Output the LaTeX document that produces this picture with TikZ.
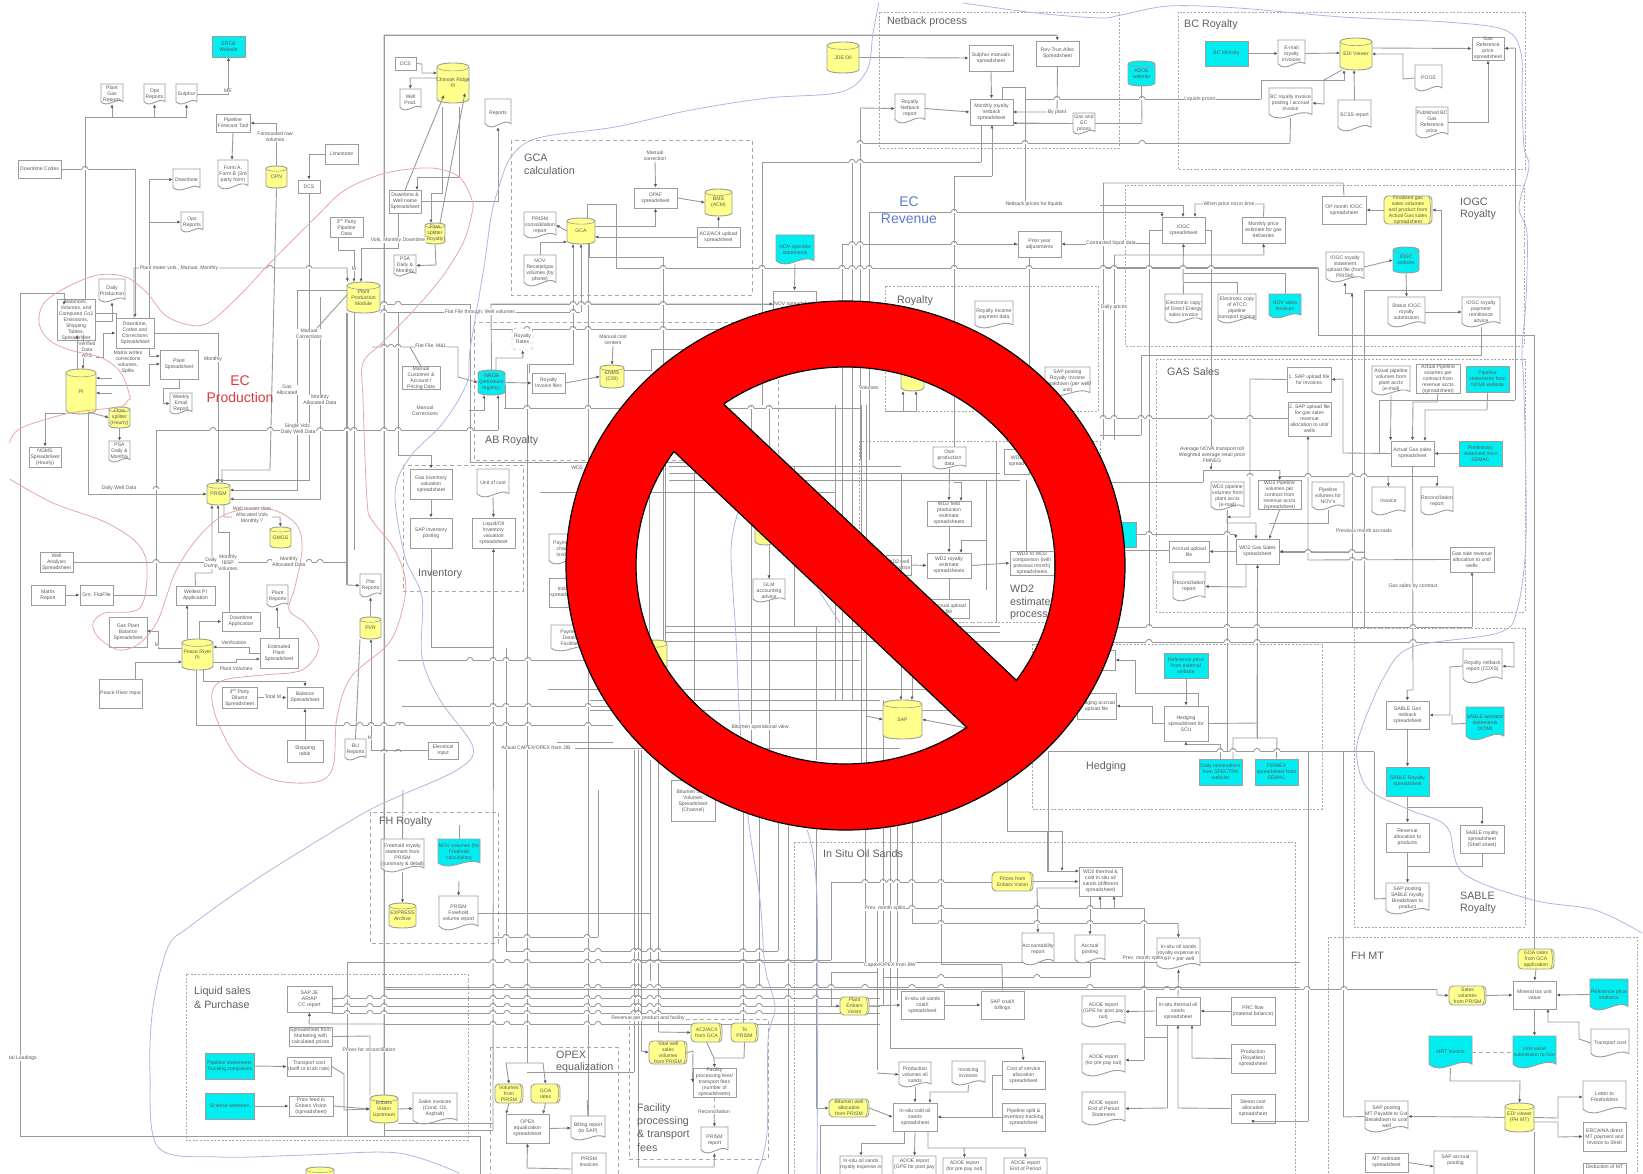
\documentclass[tikz,border=0pt]{standalone}
\usepackage{fontspec}
\setmainfont{Liberation Sans}
\usetikzlibrary{arrows.meta,calc}
\definecolor{edge}{HTML}{9C9C9C}
\definecolor{wire}{HTML}{9A9A9A}
\definecolor{txtc}{HTML}{5A5A5A}
\definecolor{regc}{HTML}{606060}
\definecolor{cyanb}{HTML}{00EEF2}
\definecolor{yelb}{HTML}{FFFF8C}
\definecolor{redc}{HTML}{E8A6A6}
\definecolor{bluc}{HTML}{A9B9E2}
\definecolor{dashc}{HTML}{A8A8A8}
\definecolor{ecred}{HTML}{E0383C}
\definecolor{ecblue}{HTML}{5B7BD0}
\newcommand\mkgeo[4]{\pgfmathsetmacro\gcx{(#1+#3)/2}\pgfmathsetmacro\gcy{(#2+#4)/2}\pgfmathsetmacro\gw{#3-#1}\pgfmathsetmacro\gh{#4-#2}}
\newcommand\BX[7][white]{\mkgeo{#3}{#4}{#5}{#6}\node[nd,draw=edge,line width=.9pt,fill=#1,minimum width=\gw pt,minimum height=\gh pt] (#2) at (\gcx,\gcy) {#7};}
\newcommand\DC[7][white]{\mkgeo{#3}{#4}{#5}{#6}\pgfmathsetmacro\gs{.12*\gh}%
 \filldraw[draw=edge,line width=.9pt,fill=#1] (#3,#4)--(#5,#4)--(#5,#6-\gs) .. controls (#5-.3*\gw,#6-3*\gs) and (#3+.3*\gw,#6+2*\gs) .. (#3,#6-\gs)--cycle;
 \node[nd,minimum width=\gw pt,minimum height=\gh pt] (#2) at (\gcx,\gcy) {#7};}
\newcommand\CY[7][yelb]{\mkgeo{#3}{#4}{#5}{#6}\pgfmathsetmacro\gs{min(.12*\gh,4)}%
 \filldraw[draw=edge,line width=.9pt,fill=#1] (#3,#4+\gs) .. controls (#3,#4-\gs/3) and (#5,#4-\gs/3) .. (#5,#4+\gs) -- (#5,#6-\gs) .. controls (#5,#6+\gs/3) and (#3,#6+\gs/3) .. (#3,#6-\gs)--cycle;
 \draw[edge,line width=.6pt] (#3,#4+\gs) .. controls (#3,#4+2.3*\gs) and (#5,#4+2.3*\gs) .. (#5,#4+\gs);
 \node[nd,minimum width=\gw pt,minimum height=\gh pt] (#2) at (\gcx,\gcy) {#7};}
\newcommand\TG[6]{\mkgeo{#2}{#3}{#4}{#5}%
 \filldraw[draw=edge,line width=.9pt,fill=yelb,rounded corners=4pt] (#2,#3) rectangle (#4,#5);
 \draw[edge,line width=.6pt] (#4-3,#3+1) .. controls (#4-1,#3+5) and (#4-1,#5-5) .. (#4-3,#5-1);
 \node[nd,minimum width=\gw pt,minimum height=\gh pt] (#1) at (\gcx,\gcy) {#6};}
\newcommand\HU[2]{\foreach \hx in {#2}{\fill[white] (\hx-3,#1-.7) rectangle (\hx+3,#1+.7);\draw[wire,line width=.9pt] (\hx-3,#1) .. controls (\hx-2.5,#1-3.5) and (\hx+2.5,#1-3.5) .. (\hx+3,#1);}}
\tikzset{
 nd/.style={font=\fontsize{5.1}{6}\selectfont,text=txtc,align=center,inner sep=0pt},
 lbl/.style={font=\fontsize{5.1}{6}\selectfont,text=txtc,align=center,inner sep=.6pt,fill=white},
 reg/.style={font=\fontsize{10.7}{13}\selectfont,text=regc,anchor=west,align=left,inner sep=0pt},
 ln/.style={draw=wire,line width=.9pt},
 ar/.style={ln,-{Latex[length=3.4pt,width=3.2pt,black!65]}},
 dsh/.style={draw=dashc,line width=.9pt,dash pattern=on 4pt off 3pt},
 dst/.style={draw=dashc,line width=.9pt,dash pattern=on 2pt off 1.6pt},
}
\begin{document}
\begin{tikzpicture}[x=1pt,y=-1pt]
\path[use as bounding box,fill=white] (0,0) rectangle (1643,1174);
\clip (0,0) rectangle (1643,1174);
% --- regions
\draw[dsh] (511,140) rectangle (752,295);
\draw[dsh] (474,322) rectangle (778,460);
\draw[dsh] (403,465) rectangle (523,591);
\draw[dst] (879,12) rectangle (1119,148);
\draw[dst] (1178,12) rectangle (1525,169);
\draw[dst] (1125,185) rectangle (1524,346);
\draw[dst] (885,286) rectangle (1098,411);
\draw[dst] (1156,359) rectangle (1525,612);
\draw[dst] (859,441) rectangle (1100,622);
\draw[dst] (1032,644) rectangle (1322,809);
\draw[dst] (1354,628) rectangle (1525,927);
\draw[dst] (794,842) rectangle (1295,1190);
\draw[dst] (1328,937) rectangle (1637,1190);
\draw[dsh] (370,812) rectangle (498,943);
\draw[dst] (186,974) rectangle (468,1140);
\draw[dsh] (490,1047) rectangle (618,1190);
\draw[dsh] (629,1019) rectangle (768,1159);
% --- free bus lines
\foreach \xa/\ya/\yb in {527/364/1063,384/35/1095,398/312/455,470/304/462,506/648/951,588/244/1116,598/790/937,
 634/750/1072,638/750/1167,650/760/981,658/760/1032,641/750/1051,743/800/1023,759/800/987,778/800/951,788/800/1174,
 816/800/1108,831/882/960,831/972/1006,865/800/963,883/800/1005,890/800/1048,897/800/1000,912/800/924,941/800/964,
 877/908/1070,1144/908/1060,1167/1025/1108,842/244/460,852/162/460,860/108/460,869/212/460,954/176/460,1029/257/460,
 1103/183/440,1114/255/440,1149/230/627,1227/510/752,1352/293/627,1364/290/627,1257/564/738,1308/752/1121,1343/752/1117,
 1374/752/899,1515/48/400,1534/335/949,649/405/700,665/405/700,694/466/700,751/405/760,769/405/760,794/466/626,816/626/760,
 835/405/700,842/460/700,852/460/700,861/405/800,866/405/800,883/700/800,996/441/622,986/480/590,1026/480/560,
 663/257/460,762/162/405,663/460/640,1048/751/872,1007/760/831,1141/355/435}
 {\draw[ln] (\xa,\ya)--(\xa,\yb);}
\foreach \ya/\xa/\xb in {35/384/1057,312/398/580,304/491/773,329/491/773,408/504/860,430/156/498,725/196/613,742/557/613,748/575/900,
 660/398/860,466/669/901,473/669/1000,480/669/1020,492/540/835,626/666/1000,632/666/1000,641/666/1100,689/548/1000,700/590/880,710/590/1000,
 706/402/640,751/1048/1374,627/1100/1472,642/1100/1514,268/616/1318,335/1318/1534,212/869/1100,244/842/1018,99/1025/1261,143/860/1290,
 162/762/981,176/954/992,418/1100/1288,435/1100/1141,482/1100/1203,476/1280/1437,534/1136/1236,550/1100/1169,552/1279/1364,989/384/1437,
 962/347/1300,987/384/1300,998/332/880,1006/332/880,1013/332/880,1024/384/880,937/493/598,951/506/778,960/640/831,882/831/992,908/872/1144,
 923/912/1178,964/941/1002,977/883/1090,972/831/877,1048/890/1022,1125/820/876,1072/527/634,1130/384/493,647/431/493,1136/20/480,205/1100/1183,212/1100/1162,243/1100/1149,267/1100/1318,123/1013/1142}
 {\draw[ln] (\xa,\ya)--(\xb,\ya);}
\draw[ln] (347,962)--(347,1136);\draw[ln] (480,1136)--(480,1174);\draw[ln] (820,1125)--(820,1174);\draw[ln] (506,810)--(506,725);
\draw[ln,line width=1.3pt] (347,313)--(347,585);\draw[ln] (354,313)--(354,550);
% --- nodes: EC production
\BX[cyanb]{ercb}{212}{36}{245}{57}{ERCB\\Website}
\DC{pg}{101}{84}{123}{104}{Plant\\Gas\\Reports}
\DC{ops}{144}{84}{165}{104}{Ops\\Reports}
\DC{sul}{176}{84}{197}{104}{Sulphur}
\BX{pft}{216}{114}{250}{132}{Pipeline\\Forecast Tool}
\DC{forma}{218}{160}{248}{189}{Form A,\\Form B (3rd\\party form)}
\CY{opn}{266}{166}{287}{188}{OPN}
\BX{dtc}{18}{160}{61}{178}{Downtime Codes}
\DC{dtd}{173}{169}{200}{190}{Downtime}
\DC{ops2}{181}{212}{203}{232}{Ops\\Reports}
\BX{lime}{325}{144}{358}{164}{Limestone}
\BX{dcs}{298}{180}{320}{193}{DCS}
\BX{dcs2}{395}{57}{416}{70}{DCS}
\CY{chin}{437}{63}{469}{103}{Chinook Ridge\\PI}
\DC{wprod}{400}{89}{421}{110}{Well\\Prod.}
\DC{reps}{485}{99}{511}{127}{Reports}
\BX{dwn}{389}{190}{421}{213}{Downtime \&\\Well name\\Spreadsheet}
\CY{flow}{425}{223}{445}{244}{Flow\\splitter\\(Royalty)}
\BX{tpp}{330}{217}{363}{237}{3\textsuperscript{rd} Party\\Pipeline\\Data}
\DC{psa}{394}{255}{416}{276}{PSA\\Daily \&\\Monthly}
\CY{ppm}{347}{282}{380}{313}{Plant\\Production\\Module}
\BX{bal}{57}{305}{95}{335}{Balances,\\Volumes, and\\Computed Co2\\Emissions,\\Shipping\\Tables,\\Spreadsheet}
\DC{dp}{99}{279}{125}{302}{Daily\\Production}
\BX{dcc}{116}{318}{154}{348}{Downtime,\\Codes and\\Corrections\\Spreadsheet}
\BX{plsp}{160}{350}{198}{379}{Plant\\Spreadsheet}
\DC{wem}{170}{393}{192}{414}{Weekly\\Email\\Report}
\CY{pi}{66}{369}{96}{414}{PI}
\CY{flow2}{109}{407}{130}{428}{Flow\\splitter\\(Hourly)}
\DC{psa2}{109}{441}{130}{462}{PSA\\Daily \&\\Monthly}
\BX{noms}{29}{447}{61}{467}{NGMS\\Spreadsheet\\(Hourly)}
\CY{prism}{207}{483}{230}{505}{PRISM}
\CY{gmgs}{270}{527}{291}{548}{GMGS}
\BX{wa}{40}{552}{73}{572}{Well\\Analysis\\Spreadsheet}
\BX{matr}{31}{585}{65}{605}{Matrix\\Report}
\BX{gm}{80}{585}{113}{605}{Gm. FlatFile}
\BX{wel}{176}{586}{215}{605}{Wellest PI\\Application}
\DC{prep}{267}{585}{288}{607}{Plant\\Reports}
\BX{dapp}{222}{612}{260}{631}{Downtime\\Application}
\BX{gpb}{109}{617}{147}{647}{Gas Plant\\Balance\\Spreadsheet}
\CY{prpi}{182}{639}{213}{670}{Peace River\\PI}
\BX{est}{260}{638}{298}{668}{Estimated\\Plant\\Spreadsheet}
\BX{pri}{99}{679}{142}{708}{Peace River Input}
\BX{d3}{222}{687}{257}{708}{3\textsuperscript{rd} Party\\Diluent\\Spreadsheet}
\BX{bsp}{287}{687}{323}{708}{Balance\\Spreadsheet}
\BX{ship}{287}{740}{323}{762}{Shipping\\table}
\DC{bu}{345}{739}{366}{760}{BU\\Reports}
\DC{plot}{360}{574}{381}{597}{Plot\\Reports}
\CY{pvr}{360}{617}{381}{639}{PVR}
\BX{elec}{428}{742}{458}{759}{Electrical\\Input}
\BX{ginv}{410}{469}{452}{499}{Gas Inventory\\valuation\\spreadsheet}
\BX{sinv}{410}{518}{452}{548}{SAP inventory\\posting}
\DC{uoc}{477}{469}{509}{497}{Unit of cost}
\BX{liq}{472}{518}{515}{548}{Liquid/Oil\\Inventory\\valuation\\spreadsheet}
\BX{mca}{402}{368}{440}{388}{Manual\\Customer \&\\Account /\\Pricing Data}
\node[nd,draw=edge,dashed,rounded corners=4pt,minimum width=21pt,minimum height=22pt,fill=white] (rates) at (522.5,339) {Royalty\\Rates};
\CY[cyanb]{nrcb}{478}{370}{505}{395}{NRCB\\(petroleum\\registry)}
\BX{rinv}{532}{373}{565}{393}{Royalty\\Invoice files}
\CY{enms}{600}{365}{624}{388}{ENMS\\(CRI)}
% GCA
\CY{gca}{567}{218}{595}{244}{GCA}
\DC{pcr}{524}{212}{556}{238}{PRISM\\consolidation\\report}
\DC{nrv}{524}{255}{556}{286}{NOV\\Receipt/gas\\volumes (by\\phone)}
\BX{opaf}{634}{188}{677}{208}{OPAF\\spreadsheet}
\CY{bms}{705}{189}{732}{216}{BMS\\(ACM)}
\BX{ac2}{697}{227}{740}{247}{AC2/AC4 upload\\spreadsheet}
\node[lbl] (mcor) at (655,156) {Manual\\correction};
\DC[cyanb]{novop}{776}{235}{814}{264}{NOV operator\\statements}
\BX{novs}{773}{291}{816}{318}{NOV spreadsheet}
% Netback
\CY{jde}{827}{42}{859}{73}{JDE Oil}
\BX{sman}{969}{45}{1013}{71}{Sulphur manuals\\spreadsheet}
\BX{rev}{1036}{41}{1079}{66}{Rev-Trun Alloc\\Spreadsheet}
\DC{rnr}{895}{94}{925}{123}{Royalty\\Netback\\report}
\BX{mrn}{970}{99}{1013}{125}{Monthly royalty\\netback\\spreadsheet}
\DC{gec}{1073}{113}{1095}{134}{Gas and\\EC\\prices}
\BX{pya}{1018}{231}{1061}{257}{Prior year\\adjustments}
\CY[cyanb]{adoe}{1128}{61}{1155}{86}{ADOE\\website}
% BC
\BX[cyanb]{bcm}{1205}{41}{1248}{66}{BC Ministry}
\DC{eml}{1278}{40}{1305}{67}{E-mail\\royalty\\invoices}
\CY{edi}{1340}{38}{1372}{70}{EDI Viewer}
\BX{gasref}{1472}{37}{1504}{60}{Gas\\Reference\\price\\spreadsheet}
\DC{poos}{1415}{65}{1442}{91}{POOS}
\DC{bcd}{1269}{88}{1312}{118}{BC royalty invoice\\posting / accrual\\invoice}
\DC{scss}{1338}{100}{1371}{131}{SCSS report}
\DC{pub}{1416}{107}{1448}{138}{Published BC\\Gas\\Reference\\price}
% IOGC
\BX{iogc}{1162}{217}{1205}{243}{IOGC\\spreadsheet}
\BX{mpe}{1242}{217}{1285}{243}{Monthly price\\estimate for gas\\deliveries}
\BX{opm}{1322}{196}{1366}{224}{OP month IOGC\\spreadsheet}
\TG{fin}{1384}{196}{1432}{224}{Finalized gas\\sales volumes\\and product from\\Actual Gas sales\\spreadsheet}
\DC{ius}{1326}{252}{1364}{282}{IOGC royalty\\statement\\upload file (from\\PRISM)}
\CY[cyanb]{iweb}{1393}{247}{1419}{273}{IOGC\\website}
\DC{sta}{1388}{297}{1425}{327}{Status IOGC\\royalty\\submission}
\DC{pay}{1462}{297}{1500}{327}{IOGC royalty\\payment\\remittance\\advice}
\DC{ede}{1165}{294}{1202}{323}{Electronic copy\\of Direct Energy\\sales invoice}
\DC{eat}{1218}{294}{1256}{323}{Electronic copy\\of ATCO\\pipeline\\transport invoice}
\DC[cyanb]{nsi}{1269}{294}{1301}{318}{NOV sales\\invoices}
% Gas sales
\BX{s1}{1287}{367}{1331}{392}{1. SAP upload file\\for invoices}
\BX{s2}{1288}{402}{1331}{436}{2. SAP upload file\\for gas sales\\revenue\\allocation to unit/\\wells}
\DC{apv}{1372}{366}{1410}{395}{Actual pipeline\\volumes from\\plant accts\\(e-mail)}
\BX{apc}{1416}{366}{1460}{392}{Actual Pipeline\\volumes per\\contract from\\revenue accts\\(spreadsheet)}
\BX[cyanb]{pln}{1466}{366}{1509}{392}{Pipeline\\statements from\\NOVA website}
\BX{ags}{1391}{441}{1434}{466}{Actual Gas sales\\spreadsheet}
\BX[cyanb]{psm}{1459}{441}{1502}{466}{Preliminary\\statement from\\SEMAC}
\DC{wpv}{1211}{482}{1244}{510}{WD2 pipeline\\volumes from\\plant accts\\(e-mail)}
\BX{wpc}{1258}{482}{1301}{508}{WD2 Pipeline\\volumes per\\contract from\\revenue accts\\(spreadsheet)}
\DC{pvn}{1312}{482}{1344}{510}{Pipeline\\volumes for\\NOV's}
\DC{inv}{1372}{487}{1405}{515}{Invoice}
\DC{rec}{1421}{487}{1453}{515}{Reconciliation\\report}
\BX{acu}{1169}{541}{1209}{562}{Accrual upload\\file}
\BX{wgs}{1236}{539}{1279}{564}{WD2 Gas Sales\\spreadsheet}
\DC{rec2}{1173}{572}{1205}{601}{Reconciliation\\report}
\BX{gsa}{1450}{547}{1494}{572}{Gas sale revenue\\allocation to unit/\\wells}
\BX[cyanb]{cyh}{1090}{522}{1136}{547}{}
% Hedging
\BX[cyanb]{refp}{1164}{653}{1208}{678}{Reference price\\from external\\website}
\BX{hed}{1164}{706}{1208}{741}{Hedging\\spreadsheet for\\SCU}
\BX{acu2}{1077}{693}{1116}{719}{Hedging accrual\\upload file}
\BX{hbx}{1070}{650}{1115}{670}{}
\BX[cyanb]{dnm}{1199}{759}{1242}{785}{Daily nominations\\from SPECTRA\\website}
\BX[cyanb]{frm}{1255}{759}{1298}{785}{FIRMEX\\spreadsheet from\\SEMAC}
% SABLE
\DC{cdx}{1463}{649}{1502}{683}{Royalty netback\\report (CDXS)}
\DC[cyanb]{sop}{1466}{707}{1504}{740}{SABLE operator\\statements\\(XOM)}
\BX{sgn}{1386}{701}{1429}{729}{SABLE Gas\\netback\\spreadsheet}
\BX[cyanb]{srs}{1386}{767}{1429}{796}{SABLE Royalty\\spreadsheet}
\BX{rvp}{1386}{823}{1429}{852}{Revenue\\allocation to\\products}
\BX{ssh}{1460}{825}{1504}{853}{SABLE royalty\\spreadsheet\\(Shell sheet)}
\DC{spp}{1386}{883}{1429}{914}{SAP posting\\SABLE royalty\\Breakdown to\\product}
% FH MT
\TG{goa}{1518}{949}{1554}{969}{GOA rates\\from GCA\\application}
\TG{sal}{1449}{986}{1486}{1005}{Sales\\volumes\\from PRISM}
\BX{mtu}{1513}{981}{1556}{1009}{Mineral tax unit\\value}
\DC[cyanb]{rps}{1590}{979}{1628}{1010}{Reference price\\statistics}
\DC{tco}{1591}{1029}{1629}{1057}{Transport cost}
\DC[cyanb]{mrt}{1429}{1036}{1472}{1068}{MRT invoice}
\DC[cyanb]{uvs}{1513}{1036}{1556}{1068}{Unit value\\submission to Gov}
\DC{ltr}{1583}{1081}{1626}{1113}{Letter to\\Freeholders}
\CY{edim}{1505}{1103}{1534}{1132}{EDI viewer\\(PH MT)}
\DC{smt}{1365}{1101}{1408}{1132}{SAP posting\\MT Payable to Gvt\\Breakdown to unit/\\well}
\BX{erc}{1583}{1122}{1626}{1151}{ERCAINA direct\\MT payment and\\invoice to Shell}
\BX{mte}{1365}{1153}{1408}{1172}{MT estimate\\spreadsheet}
\DC{sap2}{1434}{1151}{1477}{1182}{}
\node[nd,anchor=north] (sap2t) at (1455.5,1155) {SAP accrual\\posting};
\BX{ded}{1583}{1163}{1626}{1190}{}
\node[nd,anchor=north] (dedt) at (1604.5,1165) {Deduction of MT};
% In situ
\BX{thm}{1079}{867}{1122}{896}{WD2 thermal \&\\cold in situ oil\\sands (different\\spreadsheet)}
\TG{prc}{992}{872}{1033}{891}{Prices from\\Enbarx Vision}
\DC{acc}{1022}{933}{1054}{965}{Accountability\\report}
\DC{apo}{1075}{935}{1105}{963}{Accrual\\posting}
\DC{isd}{1157}{938}{1200}{969}{In-situ oil sands\\royalty expense in\\WP + per well}
\BX{ist}{1156}{997}{1200}{1025}{In-situ thermal oil\\sands\\spreadsheet}
\DC{ad1}{1082}{996}{1125}{1027}{ADOE report\\(GPE for post pay\\out)}
\DC{ad2}{1082}{1044}{1125}{1076}{ADOE report\\(for pre pay out)}
\DC{ad3}{1082}{1092}{1125}{1125}{ADOE report\\End of Period\\Statement}
\BX{prf}{1231}{997}{1275}{1025}{PRC flow\\(material balance)}
\BX{pro}{1231}{1044}{1275}{1073}{Production\\(Royalties)\\spreadsheet}
\BX{stm}{1231}{1094}{1275}{1123}{Steam cost\\allocation\\spreadsheet}
\BX{cox}{901}{991}{944}{1019}{In-situ oil sands\\coalX\\spreadsheet}
\BX{sbl}{981}{991}{1024}{1019}{SAP coalX\\billings}
\TG{pev}{840}{997}{869}{1015}{Plant\\Enbarx\\Vision}
\TG{bit}{829}{1099}{869}{1117}{Bitumen well\\allocation\\from PRISM}
\DC{pvo}{899}{1062}{931}{1087}{Production\\volumes oil\\sands}
\DC{ivc}{952}{1061}{985}{1085}{Invoicing\\invoices}
\BX{cos}{1002}{1061}{1045}{1089}{Cost of service\\allocation\\spreadsheet}
\BX{ics}{893}{1103}{937}{1131}{In-situ cold oil\\sands\\spreadsheet}
\BX{pip}{1002}{1103}{1045}{1131}{Pipeline split \&\\inventory tracking\\spreadsheet}
\DC{ie1}{840}{1156}{882}{1190}{}
\node[nd,anchor=north] (ie1t) at (861,1159) {In-situ oil sands\\royalty expense in};
\DC{ie2}{893}{1156}{936}{1190}{}
\node[nd,anchor=north] (ie2t) at (914.5,1159) {ADOE report\\(GPE for post pay};
\DC{ie3}{943}{1158}{986}{1190}{}
\node[nd,anchor=north] (ie3t) at (964.5,1161) {ADOE report\\(for pre pay out)};
\DC{ie4}{1004}{1158}{1047}{1190}{}
\node[nd,anchor=north] (ie4t) at (1025.5,1161) {ADOE report\\End of Period};
% FH royalty / liquids / OPEX / facility
\DC{frs}{381}{839}{424}{872}{Freehold royalty\\statement from\\PRISM\\(summary \& detail)}
\DC[cyanb]{nvf}{438}{839}{480}{866}{NOV volumes (for\\Freehold\\calculation)}
\CY{exp}{389}{903}{416}{928}{EXPRESS\\Archive}
\DC{pfv}{439}{896}{478}{930}{PRISM\\Freehold\\volume report}
\BX{sje}{287}{986}{332}{1012}{SAP JE\\AR/AP\\CC report}
\BX{smk}{289}{1027}{332}{1046}{Spreadsheet from\\Marketing with\\calculated prices}
\BX[cyanb]{pts}{205}{1053}{254}{1079}{Pipeline statements\\Trucking companies}
\BX{tct}{287}{1057}{331}{1076}{Transport cost\\(tariff or truck rate)}
\BX[cyanb]{sci}{205}{1093}{254}{1119}{Science websites}
\BX{pfd}{289}{1096}{333}{1116}{Price feed to\\Enbarx Vision\\(spreadsheet)}
\CY{evu}{370}{1095}{398}{1123}{Enbarx\\Vision\\Upstream}
\DC{sin}{413}{1093}{457}{1124}{Sales invoices\\(Cond, Oil,\\Asphalt)}
\CY{ybot}{306}{1167}{334}{1190}{}
\TG{vpr}{495}{1084}{523}{1103}{Volumes\\from\\PRISM}
\TG{gra}{531}{1084}{560}{1103}{GOA\\rates}
\BX{oes}{506}{1114}{549}{1143}{OPEX\\equalization\\spreadsheet}
\DC{bil}{571}{1116}{605}{1140}{Billing report\\(to SAP)}
\DC{pin}{572}{1153}{606}{1185}{}
\node[nd,anchor=north] (pint) at (589,1157) {PRISM\\invoices};
\TG{tws}{649}{1041}{687}{1064}{Total well\\sales\\volumes\\from PRISM}
\TG{agc}{691}{1023}{722}{1042}{AC2/AC4\\from GCA}
\TG{tpr}{731}{1023}{758}{1042}{To\\PRISM}
\BX{fpf}{693}{1068}{736}{1097}{Facility\\processing fees/\\transport fees\\(number of\\spreadsheets)}
\DC{prr}{701}{1127}{728}{1153}{PRISM\\report}
% centre
\BX{bsv}{671}{780}{715}{821}{\\Bitumen Sales\\Volumes\\Spreadsheet\\(Channel)}
\DC{glm}{753}{579}{785}{602}{GLM\\accounting\\advice}
\BX{wfp}{927}{501}{971}{526}{WD2 field\\production\\estimate\\spreadsheets}
\BX{wre}{927}{553}{971}{578}{WD2 royalty\\estimate\\spreadsheets}
\DC{own}{933}{447}{966}{469}{Own\\production\\data}
\BX{w2c}{1010}{551}{1054}{575}{WD2 to WD2\\comparison (with\\previous month)\\spreadsheets}
\BX{wwe}{886}{555}{911}{575}{WD2 well\\production}
\BX{wac}{929}{599}{969}{618}{Accrual upload\\file}
\BX{wsp}{1004}{449}{1029}{474}{WD2\\spread}
\CY{sap}{883}{700}{922}{739}{SAP}
\CY{ybh}{755}{505}{775}{545}{}
\CY{yb3}{645}{640}{667}{670}{}
\CY{yroy}{901}{360}{924}{391}{}
\DC{roy}{975}{301}{1013}{328}{Royalty Income\\payment data}
\DC{spr}{1045}{367}{1090}{396}{SAP posting\\Royalty Income\\breakdown (per well/\\unit)}
\DC{pm1}{549}{534}{580}{564}{Payments\\charge\\invoice}
\BX{pm2}{549}{578}{580}{607}{Indian\\spreadsheet}
\DC{pm3}{551}{625}{590}{651}{Payment\\Details\\Facilities}
% --- connectors
\draw[ar] (sul.east) -| (ercb.south);
\coordinate (busa) at (85,117);
\draw[ar] (bal.north -| busa) -- (busa) -| (pg.south);
\draw[ar] (busa) -| (ops.south);
\draw[ar] (busa) -| (sul.south);
\draw[ar] (opn.north) |- (pft.east);
\draw[ar] (pft.south) -- ([xshift=-1pt]forma.north);
\draw[ar] (dtc.east) -| (dcc.north);
\draw[ar] (149,318) |- (dtd.west);
\draw[ar] (149,222) -- (ops2.west);
\draw[ar] (134,318) |- (347,268) -- ([xshift=-16pt]ppm.north);
\draw[ar] (20,1136) -- (20,293) -- (64,293) -- (64,305);
\draw[ar] (95,321) -| (dp.south);
\draw[ln] (95,313) -- (116,313) -- (116,318);
\draw[ar] (77,369) -- (77,335);
\draw[ar] (83,335) -- (83,369);
\draw[ar] (96,357) -- (103,357) |- (dcc.west);
\draw[ar] (96,385) -- (149,385) |- (160,364);
\draw[ar] (149,348) |- (160,356);
\draw[ar] (dcc.east) -| (prism.north);
\draw[ar] (plsp.south) -- (179,388) -- (163,388) |- (wem.west);
\draw[ar] (112,378) -- (96,378);
\draw[ar] (112,393) -- (96,393);
\draw[ar] (lime.west) -| (dcs.north);
\draw[ar] (opn.south) -- (270,470) -- (222,470) -- (222,483);
\draw[ar] (dcs.south) -- (309,480) -- (217,480) -- (217,483);
\draw[ar] (347,290) -- (297,290) -- (297,490) -- (230,490);
\draw[ar] (320,297) -- (320,499) -- (230,499);
\draw[ln] (wa.east) -- (347,562);
\draw[ar] (347,585) -- (plot.west);
\draw[ln] (gm.east) -| (156,430);
\draw[ar] (88,414) |- (prism.west);
\draw[ar] (66,413) -- (45,413) -- (noms.north);
\draw[ar] (88,412) -- (flow2.west);
\draw[ar] (flow2.south) -- (psa2.north);
\draw[ar] (224,505) -- (224,517) -- (280,517) -- (gmgs.north);
\draw[ar] (wel.north) -- (195,573) -- (212,573) -- (212,505);
\draw[ar] (229,612) -- (229,532) -- (218,532) -- (218,505);
\draw[ar] (187,639) -- (187,605);
\draw[ar] (199,639) |- (dapp.west);
\draw[ar] (est.west) -- (249,653) -- (249,647) -- (213,647);
\draw[ar] (213,662) -- (236,662) -- (236,659) -- (260,659);
\draw[ar] (est.north) -- (279,627) -- (277,627) -- (277,607);
\draw[ar] (182,648) -- (158,648) -- (158,631) -- (147,631);
\draw[ar] (135,679) |- (182,662);
\draw[ar] (203,670) |- (305,681) -- (bsp.north);
\draw[ar] (d3.east) -- (bsp.west);
\draw[ar] (ship.north) -- (bsp.south);
\draw[ar] (matr.east) -- (gm.west);
\draw[ln] (196,670) -- (196,725);
\draw[ln] (360,639) -- (bu.north);
\draw[ar] (elec.west) -| (371,639);
\draw[ar] (pvr.north) -- (plot.south);
\draw[ar] (evu.north) -- (384,35) -- (1057,35) -- (rev.north);
\draw[ln] (380,312) -- (398,312);
\draw[ar] (398,455) -| (ginv.north);
\draw[ln] (380,304) -- (470,304);
\draw[ln] (470,462) -- (778,462);
\draw[ar] (581,312) -- (581,244);
\draw[ar] (nrcb.north) -- (491,304) -- (773,304);
\draw[ar] (372,347) -- (458,347) -- (458,377) -- (nrcb.west);
\draw[ln] (mca.north) -- (410,347);
\draw[ar] (469,410) -- (484,410) -- (484,395);
\draw[ar] (498,430) -- (498,395);
\draw[ar] (nrcb.east) -- (rinv.west);
\draw[ar] (rinv.east) -- (enms.west);
\draw[ar] (496,370) |- (523,358) -- (rates.south);
\draw[ln] (505,385) -- (505,408);
\draw[ln] (624,370) -- (651,370) -- (651,349) -- (700,349);
\draw[ar] (613,346) -- (enms.north);
\draw[ar] (dcs2.east) -- (422,64) -- (422,73) -- (437,73);
\draw[ar] (437,78) -- (410,78) -- (wprod.north);
\draw[ar] (405,190) -- (444,95);
\draw[ar] (440,223) -- (465,93);
\draw[ar] (459,107) -- (459,177) -- (417,177) -- (417,190);
\draw[ar] (442,107) -- (442,193) -- (431,193) -- (431,223);
\draw[ar] (dwn.east) -| (reps.south);
\draw[ar] (398,213) -- (398,248) -- (361,248) -- (361,282);
\draw[ar] (338,237) -- (338,250) -- (354,250) -- (354,282);
\draw[ar] (flow.south) -- (436,265) -- (psa.east);
\draw[ln] (317,328) -- (347,295);
\draw[ln] (309,200) -- (309,480);
\draw[ar] (gca.west) -- (pcr.east);
\draw[ar] (nrv.north) -- (540,242) -- (567,242);
\draw[ln] (587,218) -- (587,204) -- (616,204) -- (616,268);
\draw[ar] (595,226) -| (opaf.south);
\draw[ar] (ac2.west) -- (595,237);
\draw[ar] (opaf.east) -- (bms.west);
\draw[ar] (ac2.north) -- (bms.south);
\draw[ar] (mcor.south) -- (opaf.north);
\draw[ln] (589,244) -- (589,257) -- (663,257);
\draw[ar] (529,373) -- (529,364) -- (573,364) -- (573,244);
\draw[ar] (novop.south) -- (novs.north);
\draw[ar] (jde.east) -- (sman.west);
\draw[ar] (sman.south) -- (mrn.north);
\draw[ar] (rnr.east) -- (mrn.west);
\draw[ar] (860,108) -- (rnr.west);
\draw[ln] (1002,99) -- (1002,87) -- (1025,87) -- (1025,204);
\draw[ar] (rev.south) -- (1057,112) -- (1013,112);
\draw[ar] (gec.west) -- (1013,123);
\draw[ln] (981,125) -- (981,162);
\draw[ar] (992,176) -- (992,125);
\draw[ar] (1100,244) -- (pya.east);
\draw[ar] (842,244) -- (pya.west);
\draw[ln] (adoe.south) -- (1142,123);
\draw[ar] (bcm.east) -- (eml.west);
\draw[ar] (eml.east) -- (1340,53);
\draw[ar] (1372,48) -- (gasref.west);
\draw[ar] (poos.west) -- (1403,79) -- (1403,54) -- (1372,54);
\draw[ar] (scss.north) -- (1354,70);
\draw[ar] (pub.east) -| (gasref.south);
\draw[ar] (1342,70) -- (1324,80) -- (1324,104) -- (bcd.east);
\draw[ar] (1261,99) -- (1261,80) -- (1344,80) -- (1344,70);
\draw[ln] (bcd.south) -- (1290,143);
\draw[ar] (1515,48) -- (gasref.east);
\draw[ar] (iogc.east) -| (1211,470);
\draw[ln] (iogc.west) -- (1149,230);
\draw[ar] (1162,212) -- (1162,217);
\draw[ar] (1183,205) -- (1183,217);
\draw[ar] (mpe.north) -- (1264,204) -- (1195,204) -- (1195,217);
\draw[ar] (1114,255) -- (1264,255) -- (mpe.south);
\draw[ar] (1183,273) -- (iogc.south);
\draw[ln] (1183,273) -- (1285,273) -- (nsi.north);
\draw[ln] (1183,282) -- (1237,282) -- (eat.north);
\draw[ln] (1183,273) -- (ede.north);
\draw[ar] (fin.west) -- (opm.east);
\draw[ln] (1103,183) -- (1343,183) -- (opm.north);
\draw[ar] (ius.east) -- (iweb.west);
\draw[ar] (iweb.south) -- (sta.north);
\draw[ar] (sta.east) -- (pay.west);
\draw[ln] (pay.south) -- (1481,355) -- (1141,355);
\draw[ar] (1352,293) -- (1345,293) -- (ius.south);
\draw[ar] (1364,290) -- (1441,290) -- (1441,210) -- (fin.east);
\draw[ln] (1318,268) -- (1318,335);
\draw[ln] (1534,335) -- (1534,949);
\draw[ar] (s1.west) -- (1250,379) -- (1250,517) -- (1227,517);
\draw[ar] (ags.west) -- (1343,453) -- (1343,379) -- (s1.east);
\draw[ar] (apv.south) -- (ags.north west);
\draw[ar] (apc.south) -- (1437,402) -- (1413,402) -- (ags.north);
\draw[ar] (pln.south) -- (1487,410) -- (1425,410) -- (1425,441);
\draw[ln] (1379,400) -- (1379,453);
\draw[ln] (1379,400) -- (1515,400);
\draw[ar] (psm.west) -- (ags.east);
\draw[ln] (1203,482) -- (1203,470) -- (1280,470);
\draw[ar] (1280,470) -- (wpc.north);
\draw[ar] (1388,476) -- (inv.north);
\draw[ar] (1437,476) -- (rec.north);
\draw[ar] (wpv.south) -- (1227,523) -- (1256,523) -- (1256,539);
\draw[ar] (wpc.south) -- (1269,539);
\draw[ln] (pvn.south) -- (1328,523) -- (1269,523);
\draw[ar] (1236,534) -- (wgs.north west);
\draw[ar] (wgs.west) -- (acu.east);
\draw[ar] (1364,552) -- (wgs.east);
\draw[ar] (1352,540) -- (1352,293);
\draw[ar] (gsa.west) -- (1308,560) -- (1308,436);
\draw[ar] (1246,564) -- (1246,587) -- (rec2.east);
\draw[ar] (1472,627) -- (1472,572);
\draw[ar] (1514,642) -- (1514,667) -- (cdx.east);
\draw[ar] (ags.south) -- (1413,690) -- (1407,690) -- (sgn.north);
\draw[ar] (cdx.west) -- (1450,667) -- (1450,715) -- (sgn.east);
\draw[ln] (sop.west) -- (1452,724) -- (1452,715);
\draw[ar] (sgn.south) -- (srs.north);
\draw[ar] (srs.south) -- (rvp.north);
\draw[ar] (1407,807) -- (1482,807) -- (ssh.north);
\draw[ar] (rvp.south) -- (spp.north);
\draw[ln] (ssh.south) -- (1482,866) -- (1407,866);
\draw[ln] (spp.west) -- (1374,899);
\draw[ar] (refp.south) -- (hed.north);
\draw[ar] (1198,706) -- (1198,693) -- (1135,693) -- (1135,660) -- (hbx.east);
\draw[ar] (1164,723) -- (1152,723) -- (1152,706) -- (acu2.east);
\draw[ln] (hed.east) -- (1257,723);
\draw[ar] (1220,759) -- (1220,744) -- (1186,744) -- (hed.south);
\draw[ln] (1233,759) -- (1233,738) -- (1277,738) -- (frm.north);
\draw[ar] (1257,738) -- (wgs.south);
\draw[ar] (goa.south) -- (mtu.north);
\draw[ar] (1437,989) -- (1437,995) -- (sal.west);
\draw[ar] (sal.east) -- (mtu.west);
\draw[ar] (rps.west) -- (mtu.east);
\draw[ar] (mtu.south) -- (uvs.north);
\draw[ar] (tco.west) -- (1579,1039) -- (1579,1022) -- (1548,1022) -- (1548,1009);
\draw[dsh] (mrt.east) -- (uvs.west);
\draw[ar] (mrt.south) -- (1450,1081) -- (1520,1081) -- (edim.north);
\draw[ar] (edim.east) -- (1558,1118) -- (1558,1097) -- (ltr.west);
\draw[ar] (1534,1122) -- (1558,1122) -- (1558,1137) -- (erc.west);
\draw[ar] (edim.west) -- (1482,1117) -- (smt.east);
\draw[ln] (1534,1132) -- (1534,1174);
\draw[ln] (1343,1117) -- (smt.west);
\draw[ar] (mte.east) -- (sap2.west);
\draw[ar] (1047,871) -- (1079,871);
\draw[ln] (1047,831) -- (1047,871);
\draw[ar] (1007,831) -- (1062,831) -- (1062,871);
\draw[ar] (prc.east) -- (thm.west);
\draw[ar] (1079,888) -- (1037,888) -- (acc.north);
\draw[ar] (1090,896) -- (apo.north);
\draw[ar] (1100,908) -- (1100,896);
\draw[ar] (1114,908) -- (1114,896);
\draw[ln] (1100,908) -- (1144,908);
\draw[ar] (1178,923) -- (isd.north);
\draw[ar] (1144,1060) -- (ad2.east);
\draw[ln] (1144,1037) -- (1167,1037);
\draw[ar] (1167,1108) -- (ad3.east);
\draw[ar] (ist.west) -- (ad1.east);
\draw[ar] (ist.north) -- (isd.south);
\draw[ar] (prf.west) -- (ist.east);
\draw[ar] (pro.west) -- (1192,1058) -- (1192,1025);
\draw[ar] (stm.west) -- (1178,1108) -- (1178,1025);
\draw[ar] (1308,1121) -- (1253,1121) -- (stm.south);
\draw[ar] (831,1006) -- (pev.west);
\draw[ar] (pev.east) -- (cox.west);
\draw[ar] (cox.east) -- (sbl.west);
\draw[ln] (sbl.north) -- (1002,964);
\draw[ln] (1090,977) -- (1090,963);
\draw[ar] (816,1108) -- (bit.west);
\draw[ar] (bit.east) -- (ics.west);
\draw[ar] (877,1073) -- (pvo.west);
\draw[ar] (pvo.south) -- (ics.north);
\draw[ar] (ivc.south) -- (968,1092) -- (930,1092) -- (930,1103);
\draw[ar] (1022,1048) -- (cos.north);
\draw[ln] (cos.west) -- (992,1075) -- (992,1117);
\draw[ar] (pip.west) -- (ics.east);
\draw[ar] (ics.south) -- (ie2.north);
\draw[ar] (904,1131) -- (904,1143) -- (861,1143) -- (ie1.north);
\draw[ar] (928,1131) -- (928,1148) -- (964,1148) -- (ie3.north);
\draw[ar] (964,1148) -- (1025,1148) -- (ie4.north);
\draw[ar] (frs.south) -- (exp.north);
\draw[ln] (nvf.north) -- (459,825);
\draw[ar] (459,881) -- (pfv.north);
\draw[ln] (pfv.east) -- (650,913);
\draw[ln] (frs.north) -- (403,790);
\draw[ar] (pts.east) -- (tct.west);
\draw[ar] (sci.east) -- (pfd.west);
\draw[ar] (tct.east) -- (344,1074) -- (344,1110) -- (evu.west);
\draw[ar] (pfd.east) -- (evu.west);
\draw[ar] (384,1024) -- (309,1024) -- (sje.south);
\draw[ln] (smk.east) -- (370,1036) -- (370,1095);
\draw[ar] (evu.east) -- (sin.west);
\draw[ln] (sje.east) -- (347,998);
\draw[ln] (384,1123) -- (384,1136);
\draw[ln] (398,1123) -- (493,1123);
\draw[ar] (493,1130) -- (liq.south);
\draw[ar] (uoc.south) -- (liq.north);
\draw[ar] (ginv.south) -- (sinv.north);
\draw[ln] (sinv.south) -- (431,648);
\draw[ar] (527,1063) -- (506,1063) -- (vpr.north);
\draw[ar] (527,1063) -- (543,1063) -- (gra.north);
\draw[ar] (vpr.south) -- (506,1114);
\draw[ar] (gra.south) -- (543,1114);
\draw[ar] (oes.east) -- (bil.west);
\draw[ar] (pin.west) -- (527,1168) -- (oes.south);
\draw[ln] (bil.north) -- (587,1100);
\draw[ar] (641,1051) -- (tws.west);
\draw[ar] (658,1032) -- (agc.west);
\draw[ar] (tws.east) -- (693,1051) -- (fpf.west);
\draw[ar] (agc.south) -- (714,1058) -- (fpf.north);
\draw[ln] (tpr.south) -- (744,1058) -- (714,1058);
\draw[dsh] (fpf.south) -- (714,1112);
\draw[ar] (714,1112) -- (prr.north);
\draw[ar] (638,1167) -- (714,1167) -- (prr.south);
\draw[ar] (own.south) -- (wfp.north);
\draw[ar] (wfp.south) -- (wre.north);
\draw[ar] (wwe.east) -- (wre.west);
\draw[ar] (wre.east) -- (w2c.west);
\draw[ln] (wre.south) -- (wac.north);
\draw[ar] (954,482) -- (961,482) -- (961,501);
\draw[ar] (986,565) -- (986,540) -- (961,540) -- (961,553);
\draw[ar] (901,473) -- (901,700);
\draw[ar] (912,660) -- (912,700);
\draw[ar] (967,728) -- (sap.east);
\draw[ar] (866,716) -- (sap.west);
\draw[ar] (769,545) -- (glm.north);
\draw[ar] (903,411) -- (903,391);
\draw[ar] (916,411) -- (916,391);
\draw[ln] (885,411) -- (916,411);
% --- bridges
\HU{268}{270,309}
\HU{430}{213,270,297,309,320,347,354,384,398,470}
\HU{489}{156}
\HU{562}{156,212,228,270,297,309,320}
\HU{169}{85}
\HU{312}{384,470,491,573}
\HU{304}{384,398,573,581,588,663}
\HU{347}{384,391,398}
\HU{329}{527,573,588,663}
\HU{408}{527,588,649,665,751,769}
\HU{725}{347,360,371,384,398,402,493,506,528,588}
\HU{706}{493,506,528,588}
\HU{660}{470,493,506,528,588}
\HU{752}{384,398}
\HU{268}{663,762,842,852,860,869,954,1029,1103,1114,1149,1183,1211}
\HU{212}{954}
\HU{244}{852,860,954}
\HU{143}{860,1025,1142}
\HU{99}{1057,1142}
\HU{162}{852,860}
\HU{418}{1103,1114,1141,1149,1211,1250}
\HU{627}{1149,1227,1257,1413}
\HU{642}{1149,1227,1257,1413}
\HU{476}{1250,1308,1352,1364}
\HU{552}{1308,1352}
\HU{560}{1352,1364}
\HU{534}{1149,1227}
\HU{751}{1220,1233,1257,1277}
\HU{962}{493,507,527,587,598,634,638,650,658,743,759,788,816}
\HU{987}{493,507,527,587,598,634,638,650,658,743,759,788,816,831,865,912,941,1090}
\HU{998}{347,370,384,493,507,527,587,598,634,638,650,658,743,759,788,816}
\HU{1006}{347,370,384,493,507,527,587,598,634,638,650,658,743,759}
\HU{1013}{347,370,384,493,507,527,587,598,634,638,650,658,743,759}
\HU{1024}{493,507,527,587,598}
\HU{937}{506,527,587}
\HU{951}{527,587,598,634,638,650,658,743,759}
\HU{882}{865,883,890,897,912,941}
\HU{908}{883,890,897,912,941,1037,1090}
\HU{923}{941,1037,1090,1144}
\HU{977}{941,1037}
\HU{989}{1144,1167,1178,1307,1344}
% --- labels
\node[lbl] (t1) at (228,91) {ME};
\node[lbl] (t2) at (275,137) {Forecasted raw\\volumes};
\node[lbl] (t3) at (398,240) {Vols, Monthly Downtime};
\node[lbl] (t4) at (179,268) {Plant meter vols., Manual, Monthly};
\node[lbl] (t5) at (87,350) {Verified\\Data\\APS};
\node[lbl] (t6) at (128,362) {Matrix writes\\corrections\\volumes,\\Splits};
\node[lbl] (t7) at (213,359) {Monthly};
\node[lbl] (t8) at (309,334) {Manual\\Corrections};
\node[lbl] (t9) at (320,400) {Monthly\\Allocated Data};
\node[lbl] (t10) at (480,312) {Flat File through, Well volumes};
\node[lbl] (t11) at (431,346) {Flat File, M\&L};
\node[lbl] (t12) at (425,411) {Manual\\Corrections};
\node[lbl] (t13) at (298,429) {Single Vols.\\Daily Well Data};
\node[lbl] (t14) at (119,488) {Daily Well Data};
\node[lbl] (t15) at (252,515) {Well master data\\Allocated Vols\\Monthly ?};
\node[lbl] (t16) at (211,563) {Daily\\Dump};
\node[lbl] (t17) at (228,563) {Monthly\\IBSP\\Volumes};
\node[lbl] (t18) at (289,562) {Monthly\\Allocated Data};
\node[lbl] (t19) at (234,643) {Verification};
\node[lbl] (t20) at (236,669) {Plant Volumes};
\node[lbl] (t21) at (273,697) {Total M};
\node[lbl] (t22) at (157,645) {M};
\node[lbl] (t23) at (370,738) {M};
\node[lbl] (t24) at (536,748) {Actual CAPEX/OPEX from JIB};
\node[lbl] (t25) at (354,269) {M};
\node[lbl] (t26) at (287,390) {Gas\\Allocated};
\node[lbl] (t27) at (613,340) {Manual cost\\centers};
\node[lbl] (t28) at (1057,112) {By plant};
\node[lbl] (t29) at (1034,204) {Netback prices for liquids};
\node[lbl] (t30) at (1200,99) {Liquids prices};
\node[lbl] (t31) at (1229,204) {When price not in time};
\node[lbl] (t32) at (1111,243) {Contracted liquid data};
\node[lbl] (t33) at (1114,307) {Daily prices};
\node[lbl] (t34) at (1212,455) {Average NOVA transport toll\\Weighted average retail price\\FMNEG};
\node[lbl] (t35) at (1364,531) {Previous month accruals};
\node[lbl] (t36) at (1413,586) {Gas sales by contract};
\node[lbl] (t37) at (885,908) {Prev. month splits};
\node[lbl] (t38) at (1143,958) {Prev. month splits};
\node[lbl] (t39) at (890,965) {Capex/OPEX from BW};
\node[lbl] (t40) at (760,727) {Bitumen operational view};
\node[lbl] (t41) at (869,388) {Volumes};
\node[lbl] (t42) at (369,1050) {Prices for reconciliation};
\node[lbl] (t43) at (23,1058) {tal Loadings};
\node[lbl] (t44) at (648,1018) {Revenue per product and facility};
\node[lbl] (t45) at (714,1112) {Reconciliation};
\node[lbl] (t46) at (577,468) {WD2};
\node[reg] (r1) at (524,158) {GCA};
\node[reg] (r2) at (524,171) {calculation};
\node[reg] (r3) at (485,441) {AB Royalty};
\node[reg] (r4) at (418,574) {Inventory};
\node[reg] (r5) at (887,22) {Netback process};
\node[reg] (r6) at (1184,25) {BC Royalty};
\node[reg] (r7) at (1460,202) {IOGC};
\node[reg] (r8) at (1460,215) {Royalty};
\node[reg] (r9) at (897,301) {Royalty};
\node[reg] (r10) at (1167,372) {GAS Sales};
\node[reg] (r11) at (1010,589) {WD2};
\node[reg] (r12) at (1010,602) {estimate};
\node[reg] (r13) at (1010,616) {process};
\node[reg] (r14) at (1086,767) {Hedging};
\node[reg] (r15) at (1460,896) {SABLE};
\node[reg] (r16) at (1460,909) {Royalty};
\node[reg] (r17) at (1351,956) {FH MT};
\node[reg] (r18) at (823,854) {In Situ Oil Sands};
\node[reg] (r19) at (379,822) {FH Royalty};
\node[reg] (r20) at (194,992) {Liquid sales};
\node[reg] (r21) at (194,1005) {\& Purchase};
\node[reg] (r22) at (556,1055) {OPEX};
\node[reg] (r23) at (556,1068) {equalization};
\node[reg] (r24) at (637,1109) {Facility};
\node[reg] (r25) at (637,1122) {processing};
\node[reg] (r26) at (637,1135) {\& transport};
\node[reg] (r27) at (637,1148) {fees};
\node[font=\fontsize{14}{17}\selectfont,text=ecred,inner sep=0pt,align=center] (ecp) at (240,389) {EC\\Production};
\node[font=\fontsize{14}{17}\selectfont,text=ecblue,inner sep=0pt,align=center] (ecr) at (909,210) {EC\\Revenue};
% --- hand drawn outlines
\draw[redc,line width=.8pt] plot[smooth,tension=.55] coordinates {(9.5,443)(21,428)(70,413)(119,407)(128,400)(130,397)(121,373)(102,358)(70,350)(49,340)(39,323)(44,303)(67,287)(98,275)(126,277)(147,293)(165,315)(189,325)(210,322)(242,293)(270,263)(316,217)(345,190)(386,173)(431,168)(459,177)(472,200)(472,213)(463,243)(442,277)(414,310)(382,343)(363,363)(363,400)(367,500)(372,520)(393,547)(405,577)(403,607)(389,643)(351,677)(337,717)(333,767)(316,782)(274,780)(239,760)(217,720)(212,693)(224,680)(263,675)(302,670)(319,647)(305,623)(289,610)(295,587)(302,550)(298,527)(281,513)(260,508)(224,515)(196,540)(175,573)(158,620)(140,643)(119,650)(98,637)(93,623)(105,613)(140,608)(147,567)(137,543)(105,522)(53,503)(9.5,479)};
\draw[bluc,line width=.8pt] plot[smooth,tension=.55] coordinates {(879,2)(873,33)(867,70)(841,92)(768,98)(691,110)(615,127)(538,138)(511,157)(498,190)(491,217)(484,267)(470,350)(467,383)(443,423)(410,457)(395,493)(405,557)(422,597)(422,657)(440,700)(473,747)(457,770)(397,797)(357,817)(255,880)(189,927)(168,947)(153,1007)(150,1073)(158,1147)(219,1157)(306,1155)(398,1153)(459,1173)};
\draw[bluc,line width=.8pt] plot[smooth,tension=.55] coordinates {(963,3)(1036,13)(1100,18)(1121,15)(1169,6)(1238,8)(1342,17)(1446,22)(1505,30)(1521,53)(1522,100)(1524,147)(1529,167)(1519,207)(1527,233)(1526,300)(1522,350)(1524,393)(1526,537)(1517,610)(1498,633)(1412,647)(1384,677)(1360,733)(1357,760)(1369,790)(1410,810)(1447,827)(1463,873)(1533,900)(1595,910)(1642,933)};
\draw[bluc,line width=.8pt] plot[smooth,tension=.55] coordinates {(738,512)(731,551)(736,637)(740,726)(748,817)(760,900)(765,967)(775,1007)(768,1040)(767,1133)(757,1174)};
\draw[bluc,line width=.8pt] plot[smooth,tension=.55] coordinates {(807,830)(817,900)(817,1174)};
\draw[bluc,line width=.8pt] plot[smooth,tension=.55] coordinates {(819,591)(840,623)};
% --- prohibition sign
\filldraw[draw=black,line width=1.2pt,fill=red,even odd rule] (845.5,565.5) ellipse [x radius=279.5pt,y radius=264.5pt] (845.5,565.5) ellipse [x radius=209.5pt,y radius=198.5pt];
\fill[red] (713,394) -- (1028,691) -- (978,738) -- (663,441) -- cycle;
\draw[black,line width=1.2pt] (723.9,404.3) -- (1016.8,680.7);
\draw[black,line width=1.2pt] (673.9,451.4) -- (967.5,728.2);
\end{tikzpicture}
\end{document}
